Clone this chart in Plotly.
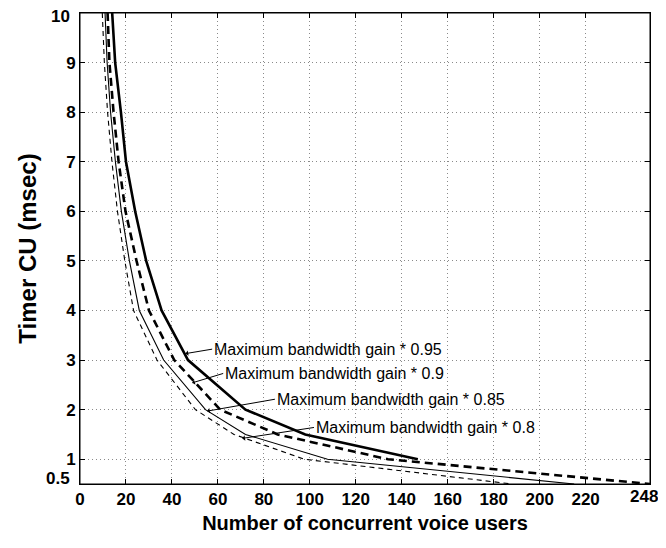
import plotly.graph_objects as go

# Timer CU (msec) levels
timer_levels = [10, 9, 8, 7, 6, 5, 4, 3, 2, 1.5, 1, 0.5]

# Number of concurrent voice users at each timer level
users_095 = [14, 15.3, 17.8, 20, 24, 28.8, 35.5, 47, 72, 98, 147]
users_090 = [12, 12.8, 14.6, 16.8, 19.8, 24.6, 30, 41, 61, 86, 134, 248]
users_085 = [10.9, 11.8, 13.3, 15.4, 18, 21.5, 25.8, 36.4, 54.6, 72, 107.7, 215]
users_080 = [9.7, 10.6, 12.0, 13.9, 16.3, 19.5, 23.3, 33.5, 50.2, 67, 97.5, 188]

labels = ["Maximum bandwidth gain * 0.95", "Maximum bandwidth gain * 0.9",
          "Maximum bandwidth gain * 0.85", "Maximum bandwidth gain * 0.8"]
# arrow head (on curve) and text anchor positions, in data units
head_x = [45.9, 48.8, 55.3, 70.6]
head_y = [3.13, 2.54, 1.97, 1.42]
text_x = [57.5, 62.3, 84.8, 101.8]
text_y = [3.22, 2.73, 2.21, 1.64]

x_ticks = [0, 20, 40, 60, 80, 100, 120, 140, 160, 180, 200, 220, 248]
y_ticks = [0.5, 1, 2, 3, 4, 5, 6, 7, 8, 9, 10]

FONT = "Liberation Sans, Arial, sans-serif"

fig = go.Figure()
series = [
    (users_095, timer_levels[:len(users_095)], 2.6, "solid"),
    (users_090, timer_levels, 2.6, "8px,5px"),
    (users_085, timer_levels, 1.1, "solid"),
    (users_080, timer_levels, 1.1, "5px,4px"),
]
for (xs, ys, w, d), name in zip(series, labels):
    fig.add_trace(go.Scatter(x=xs, y=ys, mode="lines", name=name,
                             line=dict(color="black", width=w, dash=d),
                             showlegend=False))

for i, lab in enumerate(labels):
    fig.add_annotation(x=head_x[i], y=head_y[i], ax=text_x[i], ay=text_y[i],
                       xref="x", yref="y", axref="x", ayref="y",
                       text=lab, showarrow=True, arrowhead=1, arrowsize=0.9,
                       arrowwidth=1, arrowcolor="black", xanchor="left",
                       font=dict(family=FONT, size=16, color="black"))

ytext = ["" if v in (0.5, 10) else str(v) for v in y_ticks]
xtext = ["" if v == x_ticks[-1] else str(v) for v in x_ticks]
fig.add_annotation(x=0, y=0.5, xref="paper", yref="y", text="<b>0.5</b>",
                   showarrow=False, xanchor="right", yanchor="middle",
                   xshift=-8, yshift=6,
                   font=dict(family=FONT, size=17, color="black"))
fig.add_annotation(x=0, y=10, xref="paper", yref="y", text="<b>10</b>",
                   showarrow=False, xanchor="right", yanchor="top",
                   xshift=-8, yshift=8,
                   font=dict(family=FONT, size=17, color="black"))
fig.add_annotation(x=x_ticks[-1], y=0, xref="x", yref="paper",
                   text="<b>%d</b>" % x_ticks[-1],
                   showarrow=False, xanchor="center", yanchor="top",
                   xshift=-6, yshift=-1,
                   font=dict(family=FONT, size=17, color="black"))

# plot-area border
fig.add_shape(type="rect", xref="paper", yref="paper", x0=0, y0=0, x1=1, y1=1,
              line=dict(color="black", width=1), layer="above")

axis_common = dict(showline=True, linecolor="black", linewidth=1, mirror="ticks",
                   ticks="inside", ticklen=5, tickcolor="black", tickwidth=1,
                   showgrid=True, gridcolor="#8a8a8a", griddash="1px,3px", gridwidth=1,
                   zeroline=False, ticklabeloverflow="allow",
                   tickfont=dict(family=FONT, size=17, color="black", weight="bold"))

fig.update_xaxes(range=[0, 248], tickmode="array", tickvals=x_ticks, ticktext=xtext,
                 title=dict(text="Number of concurrent voice users", standoff=10,
                            font=dict(family=FONT, size=20, color="black", weight="bold")),
                 **axis_common)
fig.update_yaxes(range=[0.5, 10], tickmode="array", tickvals=y_ticks, ticktext=ytext,
                 title=dict(text="Timer CU (msec)", standoff=22,
                            font=dict(family=FONT, size=24, color="black", weight="bold")),
                 **axis_common)

# page has an 8px body margin, so the figure is offset by 8px
fig.update_layout(width=658, height=526, paper_bgcolor="white", plot_bgcolor="white",
                  margin=dict(l=72, r=16, t=5, b=50, autoexpand=False))

fig.write_html("out.html")
